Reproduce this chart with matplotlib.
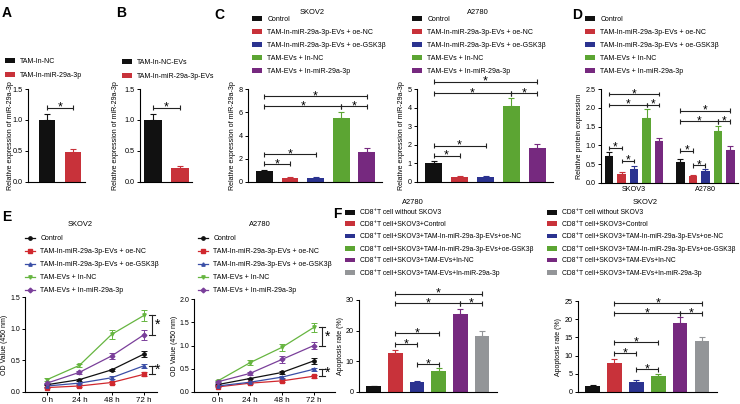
import matplotlib
matplotlib.use('Agg')
import matplotlib.pyplot as plt
import matplotlib.transforms as mtransforms
from matplotlib.patches import Patch
from matplotlib.lines import Line2D

plt.rcParams['font.family'] = ['Liberation Sans', 'DejaVu Sans']
plt.rcParams['axes.linewidth'] = 0.8

# ---------------- data ----------------
COL5 = ['#111111', '#c8323a', '#2b3390', '#5ca533', '#76297f']
COL6 = ['#111111', '#c8323a', '#2b3390', '#5ca533', '#76297f', '#939598']
LINECOL = ['#111111', '#d0282e', '#3a4ea6', '#66b540', '#7a3f9a']

A_labels = ['TAM-In-NC', 'TAM-In-miR-29a-3p']
A_vals = [1.0, 0.48]
A_err = [0.09, 0.05]
A_sig = [(0, 1, 1.2)]

B_labels = ['TAM-In-NC-EVs', 'TAM-In-miR-29a-3p-EVs']
B_vals = [1.0, 0.22]
B_err = [0.09, 0.04]
B_sig = [(0, 1, 1.2)]

grp5_labels = ['Control', 'TAM-In-miR-29a-3p-EVs + oe-NC',
               'TAM-In-miR-29a-3p-EVs + oe-GSK3\u03b2', 'TAM-EVs + In-NC',
               'TAM-EVs + In-miR-29a-3p']

C1_vals = [0.98, 0.32, 0.37, 5.5, 2.6]
C1_err = [0.06, 0.08, 0.05, 0.5, 0.32]
C1_sig = [(0, 1, 1.55), (0, 2, 2.4), (0, 3, 6.5), (3, 4, 6.5), (0, 4, 7.37)]

C2_vals = [1.0, 0.25, 0.27, 4.1, 1.85]
C2_err = [0.13, 0.05, 0.04, 0.42, 0.2]
C2_sig = [(0, 1, 1.42), (0, 2, 1.96), (0, 3, 4.77), (3, 4, 4.77), (0, 4, 5.38)]

D_groups = ['SKOV3', 'A2780']
D_vals = [[0.73, 0.23, 0.38, 1.73, 1.11],
          [0.57, 0.18, 0.32, 1.39, 0.88]]
D_err = [[0.1, 0.05, 0.06, 0.23, 0.1],
         [0.08, 0.02, 0.05, 0.12, 0.1]]
D_sig = [[(0, 1, 0.92), (1, 2, 0.58), (0, 3, 2.08), (3, 4, 2.08), (0, 4, 2.37)],
         [(0, 1, 0.86), (1, 2, 0.47), (0, 3, 1.64), (3, 4, 1.64), (0, 4, 1.92)]]

E_times = ['0 h', '24 h', '48 h', '72 h']
E1_vals = [[0.115, 0.195, 0.35, 0.60],
           [0.07, 0.095, 0.15, 0.28],
           [0.095, 0.14, 0.225, 0.415],
           [0.195, 0.42, 0.91, 1.21],
           [0.14, 0.31, 0.57, 0.905]]
E1_err = [[0.01, 0.015, 0.02, 0.05],
          [0.01, 0.01, 0.02, 0.03],
          [0.01, 0.01, 0.02, 0.03],
          [0.02, 0.03, 0.07, 0.09],
          [0.01, 0.02, 0.05, 0.08]]
E1_sig = [(3, 4), (2, 1)]

E2_vals = [[0.16, 0.29, 0.42, 0.67],
           [0.11, 0.19, 0.24, 0.34],
           [0.13, 0.21, 0.32, 0.49],
           [0.24, 0.63, 0.96, 1.39],
           [0.22, 0.40, 0.70, 1.0]]
E2_err = [[0.01, 0.02, 0.03, 0.06],
          [0.01, 0.02, 0.03, 0.03],
          [0.01, 0.01, 0.02, 0.03],
          [0.02, 0.05, 0.07, 0.09],
          [0.02, 0.03, 0.07, 0.08]]
E2_sig = [(3, 4), (2, 1)]
E_markers = ['o', 's', '^', 'v', 'D']

F_labels = ['CD8\u207aT cell without SKOV3', 'CD8\u207aT cell+SKOV3+Control',
            'CD8\u207aT cell+SKOV3+TAM-In-miR-29a-3p-EVs+oe-NC',
            'CD8\u207aT cell+SKOV3+TAM-In-miR-29a-3p-EVs+oe-GSK3\u03b2',
            'CD8\u207aT cell+SKOV3+TAM-EVs+In-NC',
            'CD8\u207aT cell+SKOV3+TAM-EVs+In-miR-29a-3p']
F1_vals = [1.8, 12.7, 3.4, 7.0, 25.3, 18.2]
F1_err = [0.3, 1.0, 0.3, 0.7, 1.8, 1.6]
F1_sig = [(2, 3, 9.1), (1, 2, 15.6), (1, 3, 19.2), (1, 4, 29.0), (4, 5, 29.0), (1, 5, 32.0)]
F2_vals = [1.7, 8.0, 2.8, 4.5, 19.0, 14.0]
F2_err = [0.2, 1.1, 0.4, 0.5, 1.7, 1.1]
F2_sig = [(2, 3, 6.3), (1, 2, 10.7), (1, 3, 13.7), (1, 4, 21.7), (4, 5, 21.7), (1, 5, 24.4)]

# ---------------- helpers ----------------
W, H = 740, 404
FS = 5.0
fig = plt.figure(figsize=(W / 100, H / 100), dpi=100)


def px_axes(x0, y0, x1, y1):
    return fig.add_axes([x0 / W, 1 - y1 / H, (x1 - x0) / W, (y1 - y0) / H])


def style(ax):
    for s in ['top', 'right']:
        ax.spines[s].set_visible(False)
    ax.tick_params(labelsize=FS + 0.2, length=2.5, width=0.7, pad=1.2)


def ylabel(ax, text, xright):
    ax.set_ylabel(text, fontsize=FS)
    tr = mtransforms.blended_transform_factory(fig.transFigure, ax.transAxes)
    ax.yaxis.set_label_coords(xright / W, 0.5, transform=tr)


def px2data(ax, p):
    y0, y1 = ax.get_ylim()
    return p * (y1 - y0) / (ax.get_position().height * H)


def bracket(ax, xa, xb, y, star_fs=9):
    d = px2data(ax, 2.5)
    kw = dict(color='#222222', lw=0.8, clip_on=False, solid_capstyle='butt')
    ax.plot([xa, xb], [y, y], **kw)
    ax.plot([xa, xa], [y - d, y + d], **kw)
    ax.plot([xb, xb], [y - d, y + d], **kw)
    ax.text((xa + xb) / 2, y - px2data(ax, 3.0), '*', ha='center', va='baseline',
            fontsize=star_fs, clip_on=False)


def bars(ax, x, vals, errs, cols, width):
    ax.bar(x, vals, width=width, color=cols, edgecolor='none', zorder=2)
    for xi, v, e, c in zip(x, vals, errs, cols):
        ax.errorbar([xi], [v], yerr=[[0], [e]], fmt='none', ecolor=c,
                    elinewidth=0.8, capsize=2.2, capthick=0.8, zorder=3)


def bar_legend(ax, labels, cols, x, y, spacing=0.85, fs=FS):
    handles = [Patch(facecolor=c, edgecolor='none') for c in cols]
    ax.legend(handles, labels, loc='upper left', bbox_to_anchor=(x / W, 1 - y / H),
              bbox_transform=fig.transFigure, frameon=False, borderpad=0,
              borderaxespad=0, handlelength=1.45, handleheight=0.7,
              handletextpad=0.75, labelspacing=spacing, fontsize=fs)


def letter(x, y, s):
    fig.text(x / W, 1 - y / H, s, fontsize=10, fontweight='bold', va='top', ha='left')


def title(x, y, s):
    fig.text(x / W, 1 - y / H, s, fontsize=FS + 0.4, ha='center', va='center')


# ---------------- A ----------------
letter(2, 6, 'A')
ax = px_axes(28, 89, 85, 182)
style(ax)
bars(ax, [0, 1], A_vals, A_err, COL5[:2], 0.65)
ax.set_xlim(-0.73, 1.46)
ax.set_ylim(0, 1.5)
ax.set_yticks([0, 0.5, 1.0, 1.5])
ax.set_xticks([])
ylabel(ax, 'Relative expression of miR-29a-3p', 14)
for a, b, y in A_sig:
    bracket(ax, a, b, y)
bar_legend(ax, A_labels, COL5[:2], 5, 58, spacing=1.05)

# ---------------- B ----------------
letter(116, 6, 'B')
ax = px_axes(140, 89, 192, 182)
style(ax)
bars(ax, [0, 1], B_vals, B_err, COL5[:2], 0.65)
ax.set_xlim(-0.48, 1.45)
ax.set_ylim(0, 1.5)
ax.set_yticks([0, 0.5, 1.0, 1.5])
ax.set_xticks([])
ylabel(ax, 'Relative expression of miR-29a-3p', 119)
for a, b, y in B_sig:
    bracket(ax, a, b, y)
bar_legend(ax, B_labels, COL5[:2], 122, 59, spacing=0.95)

# ---------------- C ----------------
letter(214, 8, 'C')
for (x0, x1, vals, errs, sig, ymax, yt, ttl, tx, lx, yl) in [
        (248, 382, C1_vals, C1_err, C1_sig, 8, [0, 2, 4, 6, 8], 'SKOV2', 312, 252, 236),
        (417, 553, C2_vals, C2_err, C2_sig, 5, [0, 1, 2, 3, 4, 5], 'A2780', 478, 412, 405)]:
    ax = px_axes(x0, 89, x1, 182)
    style(ax)
    bars(ax, range(5), vals, errs, COL5, 0.66)
    ax.set_xlim(-0.64, 4.6)
    ax.set_ylim(0, ymax)
    ax.set_yticks(yt)
    ax.set_xticks([])
    ylabel(ax, 'Relative expression of miR-29a-3p', yl)
    for a, b, y in sig:
        bracket(ax, a, b, y)
    title(tx, 12, ttl)
    bar_legend(ax, grp5_labels, COL5, lx, 16)

# ---------------- D ----------------
letter(572, 8, 'D')
ax = px_axes(601, 89, 738, 183)
style(ax)
gap = 5.7
for g in range(2):
    xs = [g * gap + i - 2 for i in range(5)]
    bars(ax, xs, D_vals[g], D_err[g], COL5, 0.68)
    for a, b, y in D_sig[g]:
        bracket(ax, xs[a], xs[b], y, star_fs=8.5)
ax.set_xlim(-2.65, 8.3)
ax.set_ylim(0, 2.5)
ax.set_yticks([0, 0.5, 1.0, 1.5, 2.0, 2.5])
ax.set_xticks([0, gap])
ax.set_xticklabels(D_groups)
ax.tick_params(axis='x', length=0, pad=2.5)
ylabel(ax, 'Relative protein expression', 583)
bar_legend(ax, grp5_labels, COL5, 585, 16)

# ---------------- E ----------------
letter(2, 210, 'E')
for (x0, x1, y0, vals, errs, sig, ymax, yt, ttl, tx, lx, xl, yl) in [
        (25, 157, 297, E1_vals, E1_err, E1_sig, 1.5, [0, 0.5, 1.0, 1.5], 'SKOV2', 80, 25, (-0.68, 3.4), 8.0),
        (194, 335, 299, E2_vals, E2_err, E2_sig, 2.0, [0, 0.5, 1.0, 1.5, 2.0], 'A2780', 260, 198, (-0.75, 3.66), 178.0)]:
    ax = px_axes(x0, y0, x1, 392)
    style(ax)
    ax.tick_params(axis='y', labelsize=FS, pad=1.0)
    xs = range(4)
    handles = []
    for k in range(5):
        ax.errorbar(xs, vals[k], yerr=errs[k], color=LINECOL[k], lw=0.9,
                    marker=E_markers[k], ms=2.4, elinewidth=0.7, capsize=2,
                    capthick=0.7, clip_on=False, zorder=3)
        handles.append(Line2D([], [], color=LINECOL[k], lw=0.9,
                              marker=E_markers[k], ms=2.4))
    ax.set_xlim(*xl)
    ax.set_ylim(0, ymax)
    ax.set_yticks(yt)
    ax.set_yticklabels(['%.1f' % v for v in yt])
    ax.set_xticks(list(xs))
    ax.set_xticklabels(E_times)
    ax.tick_params(axis='x', labelsize=FS + 0.8, length=2.5)
    ylabel(ax, 'OD Value (450 nm)', yl)
    for a, b in sig:
        xb = 3.25
        ya, yb = vals[a][3], vals[b][3]
        dx = 0.09
        kw = dict(color='#222222', lw=0.8, clip_on=False)
        ax.plot([xb, xb], [yb, ya], **kw)
        ax.plot([xb - dx, xb + dx], [ya, ya], **kw)
        ax.plot([xb - dx, xb + dx], [yb, yb], **kw)
        ax.text(xb + 0.08, (ya + yb) / 2 - px2data(ax, 4), '*', fontsize=10,
                ha='left', va='baseline', clip_on=False)
    title(tx, 224, ttl)
    ax.legend(handles, grp5_labels, loc='upper left', bbox_to_anchor=(lx / W, 1 - 235.5 / H),
              bbox_transform=fig.transFigure, frameon=False, borderpad=0,
              borderaxespad=0, handlelength=1.45, handletextpad=0.75,
              labelspacing=0.85, fontsize=FS)

# ---------------- F ----------------
letter(333, 207, 'F')
for (x0, x1, y0, vals, errs, sig, ymax, yt, ttl, tx, lx, yl) in [
        (359, 497, 300, F1_vals, F1_err, F1_sig, 30, [0, 10, 20, 30], 'A2780', 413, 345, 344),
        (578, 717, 301, F2_vals, F2_err, F2_sig, 25, [0, 5, 10, 15, 20, 25], 'SKOV2', 645, 547, 562)]:
    ax = px_axes(x0, y0, x1, 392)
    style(ax)
    bars(ax, range(6), vals, errs, COL6, 0.67)
    ax.set_xlim(-0.67, 5.69)
    ax.set_ylim(0, ymax)
    ax.set_yticks(yt)
    ax.set_xticks([])
    ylabel(ax, 'Apoptosis rate (%)', yl)
    for a, b, y in sig:
        bracket(ax, a, b, y)
    title(tx, 203, ttl)
    bar_legend(ax, F_labels, COL6, lx, 209.5, spacing=0.68, fs=4.9)

fig.savefig('out.png', dpi=100)
